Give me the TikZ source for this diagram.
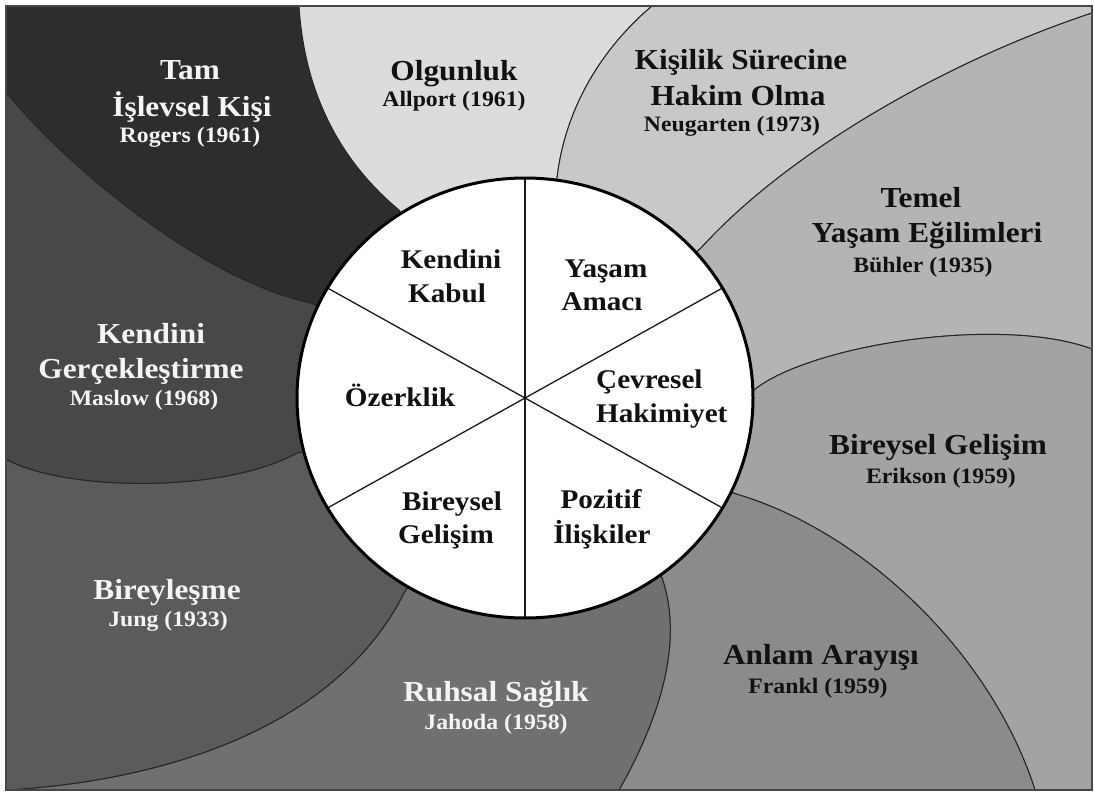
\documentclass[tikz,border=0pt]{standalone}
\usepackage{fontspec}
\setmainfont{Liberation Serif}[FakeStretch=1.08]
\definecolor{cTam}{HTML}{2D2D2D}
\definecolor{cOlg}{HTML}{DCDCDC}
\definecolor{cKis}{HTML}{C8C8CA}
\definecolor{cTem}{HTML}{B3B4B6}
\definecolor{cBir}{HTML}{A2A3A5}
\definecolor{cAnl}{HTML}{8A8B8D}
\definecolor{cRuh}{HTML}{707072}
\definecolor{cBly}{HTML}{5B5B5D}
\definecolor{cKg}{HTML}{48484A}
\definecolor{textw}{HTML}{F4F4F4}
\definecolor{textb}{HTML}{111111}
\begin{document}
\begin{tikzpicture}[x=1pt,y=-1pt,
  region/.style={draw=black!85, line width=1pt, line join=round},
  ttl/.style={font=\bfseries\fontsize{29}{34}\selectfont, anchor=base, inner sep=0pt},
  sub/.style={font=\bfseries\fontsize{22}{26}\selectfont, anchor=base, inner sep=0pt},
  inn/.style={font=\bfseries\fontsize{27}{32}\selectfont, anchor=base, inner sep=0pt, text=textb},
  spoke/.style={line width=1.3pt, draw=black!90}]
\useasboundingbox (0,0) rectangle (1094,792);
\fill[white] (0,0) rectangle (1094,792);
\coordinate (ctr) at (525,398);
% regions
\path[region, fill=cTam] (ctr) -- (311,303) .. controls (200,280) and (60,160) .. (6,92) -- (6,6) -- (299,6) .. controls (305,100) and (345,165) .. (399,210) -- cycle;
\path[region, fill=cOlg] (ctr) -- (399,210) .. controls (345,165) and (305,100) .. (299,6) -- (652,6) .. controls (600,50) and (565,110) .. (557,178) -- cycle;
\path[region, fill=cKis] (ctr) -- (557,178) .. controls (565,110) and (600,50) .. (652,6) -- (1092,6) -- (1092,13) .. controls (950,60) and (790,150) .. (701,248) -- cycle;
\path[region, fill=cTem] (ctr) -- (701,248) .. controls (790,150) and (950,60) .. (1092,13) -- (1092,349) .. controls (1000,315) and (810,345) .. (754,390) -- cycle;
\path[region, fill=cBir] (ctr) -- (754,390) .. controls (810,345) and (1000,315) .. (1092,349) -- (1092,790) -- (1035,790) .. controls (990,650) and (860,530) .. (736,494) -- cycle;
\path[region, fill=cAnl] (ctr) -- (736,494) .. controls (860,530) and (990,650) .. (1035,790) -- (619,790) .. controls (670,700) and (680,630) .. (662,578) -- cycle;
\path[region, fill=cRuh] (ctr) -- (662,578) .. controls (680,630) and (670,700) .. (619,790) -- (6,790) .. controls (180,780) and (340,720) .. (404,593) -- cycle;
\path[region, fill=cBly] (ctr) -- (404,593) .. controls (340,720) and (180,780) .. (6,790) -- (6,459) .. controls (60,490) and (220,495) .. (297,453) -- cycle;
\path[region, fill=cKg] (ctr) -- (297,453) .. controls (220,495) and (60,490) .. (6,459) -- (6,92) .. controls (60,160) and (200,280) .. (311,303) -- cycle;
% frame
\draw[line width=2pt, draw=black!72] (6,6) rectangle (1092,790);
% central circle
\fill[white] (ctr) ellipse [x radius=228, y radius=220];
\coordinate (cT) at (525,178);
\coordinate (cB) at (525,618);
\coordinate (cUL) at (327.5,288);
\coordinate (cUR) at (722.5,288);
\coordinate (cLL) at (327.5,508);
\coordinate (cLR) at (722.5,508);
\draw[spoke] (cT) -- (cB);
\draw[spoke] (cUL) -- (cLR);
\draw[spoke] (cUR) -- (cLL);
\draw[line width=3pt] (ctr) ellipse [x radius=228, y radius=220];
% outer labels
\node[ttl, text=textw] (tam1) at (190,79) {Tam};
\node[ttl, text=textw] (tam2) at (192,116) {İşlevsel Kişi};
\node[sub, text=textw] (tam3) at (190,142) {Rogers (1961)};
\node[ttl, text=textb] (olg1) at (454,81) {Olgunluk};
\node[sub, text=textb] (olg2) at (454,106) {Allport (1961)};
\node[ttl, text=textb] (kis1) at (741,70) {Kişilik Sürecine};
\node[ttl, text=textb] (kis2) at (738,105) {Hakim Olma};
\node[sub, text=textb] (kis3) at (732,131) {Neugarten (1973)};
\node[ttl, text=textb] (tem1) at (921,207) {Temel};
\node[ttl, text=textb] (tem2) at (927,242) {Yaşam Eğilimleri};
\node[sub, text=textb] (tem3) at (923,272) {Bühler (1935)};
\node[ttl, text=textb] (bir1) at (938,454) {Bireysel Gelişim};
\node[sub, text=textb] (bir2) at (941,483) {Erikson (1959)};
\node[ttl, text=textb] (anl1) at (821,664) {Anlam Arayışı};
\node[sub, text=textb] (anl2) at (818,693) {Frankl (1959)};
\node[ttl, text=textw] (ruh1) at (496,701) {Ruhsal Sağlık};
\node[sub, text=textw] (ruh2) at (496,729) {Jahoda (1958)};
\node[ttl, text=textw] (bly1) at (167,599) {Bireyleşme};
\node[sub, text=textw] (bly2) at (168,626) {Jung (1933)};
\node[ttl, text=textw] (kg1) at (151,343) {Kendini};
\node[ttl, text=textw] (kg2) at (141,378) {Gerçekleştirme};
\node[sub, text=textw] (kg3) at (144,405) {Maslow (1968)};
% inner labels
\node[inn] (i1a) at (451,268) {Kendini};
\node[inn] (i1b) at (447,302) {Kabul};
\node[inn] (i2a) at (606,277) {Yaşam};
\node[inn] (i2b) at (602,310) {Amacı};
\node[inn] (i3) at (400,406) {Özerklik};
\node[inn, anchor=base west] (i4a) at (596,388) {Çevresel};
\node[inn, anchor=base west] (i4b) at (596,422) {Hakimiyet};
\node[inn] (i5a) at (452,510) {Bireysel};
\node[inn] (i5b) at (446,543) {Gelişim};
\node[inn] (i6a) at (601,508) {Pozitif};
\node[inn] (i6b) at (602,543) {İlişkiler};
\end{tikzpicture}
\end{document}
